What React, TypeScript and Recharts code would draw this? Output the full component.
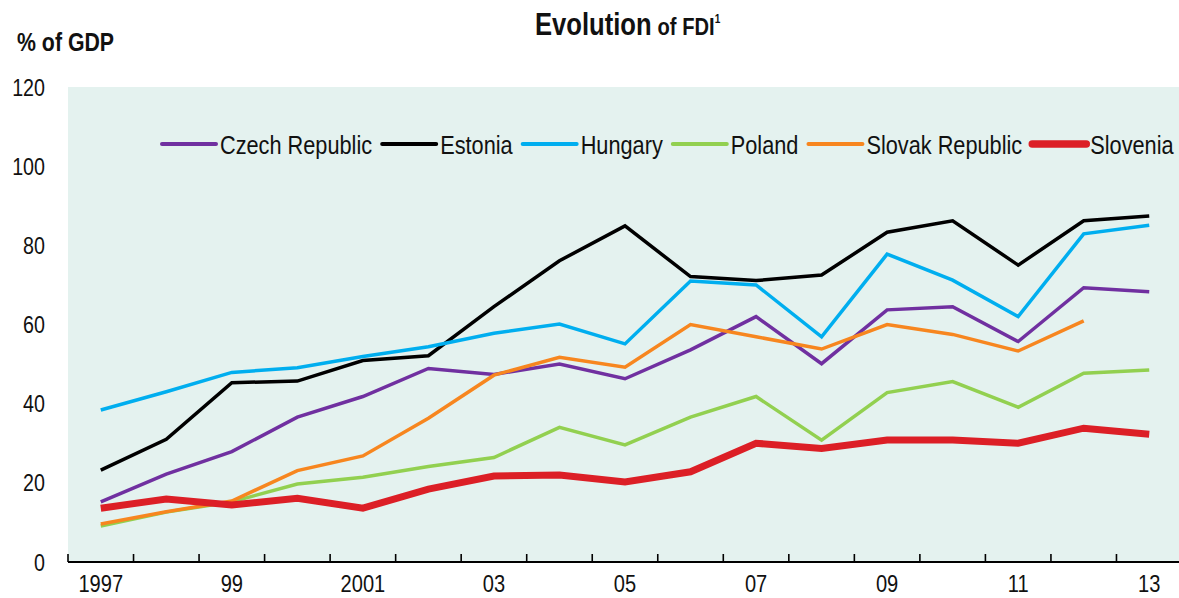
import React from 'react';
import { LineChart, Line, XAxis, YAxis, CartesianGrid, Legend } from 'recharts';

const years = ['1997','1998','1999','2000','2001','2002','2003','2004','2005','2006','2007','2008','2009','2010','2011','2012','2013'];
const tickLabels = ['1997','','99','','2001','','03','','05','','07','','09','','11','','13'];
const yTicks = [0, 20, 40, 60, 80, 100, 120];

const czech = [15.2,22.2,27.9,36.6,41.8,48.9,47.4,50.0,46.3,53.6,62.0,50.1,63.7,64.5,55.7,69.3,68.3];
const estonia = [23.2,31.0,45.3,45.7,50.9,52.1,64.5,76.1,84.9,72.1,71.1,72.5,83.3,86.2,75.0,86.2,87.4];
const hungary = [38.4,43.0,47.9,49.1,51.9,54.4,57.8,60.1,55.1,71.0,70.0,56.9,77.8,71.2,62.0,82.9,85.1];
const poland = [9.1,12.6,15.2,19.7,21.4,24.1,26.4,34.0,29.6,36.6,41.8,30.8,42.8,45.6,39.1,47.7,48.5];
const slovak = [9.6,12.7,15.4,23.1,26.8,36.3,47.2,51.7,49.2,60.0,56.9,53.8,60.0,57.5,53.3,60.9,null];
const slovenia = [13.6,15.9,14.4,16.1,13.6,18.4,21.7,22.0,20.2,22.8,30.0,28.7,30.8,30.8,30.0,33.8,32.3];

const SERIES = [
  { key: 'czech', name: 'Czech Republic', color: '#7030A0', width: 3.5 },
  { key: 'estonia', name: 'Estonia', color: '#000000', width: 3.5 },
  { key: 'hungary', name: 'Hungary', color: '#00AEEF', width: 3.5 },
  { key: 'poland', name: 'Poland', color: '#92D050', width: 3.5 },
  { key: 'slovak', name: 'Slovak Republic', color: '#F7861F', width: 3.5 },
  { key: 'slovenia', name: 'Slovenia', color: '#DC1F26', width: 7 },
];

const data = years.map((y, i) => ({
  year: y,
  czech: czech[i],
  estonia: estonia[i],
  hungary: hungary[i],
  poland: poland[i],
  slovak: slovak[i],
  slovenia: slovenia[i],
}));

const FONT = "'Liberation Sans', Arial, sans-serif";
const SX = 0.82; // horizontal condensing to mimic a narrow face
const W = 1179;
const H = 598;
const Y_AXIS_W = 68;
const MARGIN_RIGHT = -3;
const PLOT_W = W - Y_AXIS_W - MARGIN_RIGHT;
const BAND = PLOT_W / years.length;

let measureCtx: CanvasRenderingContext2D | null = null;
const measure = (txt: string, size: number) => {
  if (!measureCtx) {
    const c = document.createElement('canvas');
    measureCtx = c.getContext('2d');
  }
  if (!measureCtx) return txt.length * size * 0.5;
  measureCtx.font = `${size}px 'Liberation Sans', Arial, sans-serif`;
  return measureCtx.measureText(txt).width;
};

const XTick = (props: any) => {
  const { x, y, index } = props;
  const half = BAND / 2;
  const label = tickLabels[index];
  return (
    <g>
      <line x1={x - half} x2={x - half} y1={y} y2={y - 8} stroke="#000" strokeWidth={1.6} />
      {index === years.length - 1 && (
        <line x1={x + half} x2={x + half} y1={y} y2={y - 8} stroke="#000" strokeWidth={1.6} />
      )}
      {label && (
        <text transform={`translate(${x},${y + 30}) scale(${SX},1)`} textAnchor="middle" fontFamily={FONT} fontSize={24.5} fill="#111">
          {label}
        </text>
      )}
    </g>
  );
};

const YTick = (props: any) => {
  const { x, y, payload } = props;
  return (
    <text transform={`translate(${x},${y + 8.5}) scale(${SX},1)`} textAnchor="end" fontFamily={FONT} fontSize={24} fill="#111">
      {payload.value}
    </text>
  );
};

const LEG_FS = 26.5;
const renderLegend = (props: any) => {
  const { payload } = props;
  let cx = 2;
  const items = (payload || []).map((p: any, i: number) => {
    const s = SERIES.find((q) => q.name === p.value);
    const tw = measure(String(p.value), LEG_FS) * SX;
    const x0 = cx;
    cx += 54 + 4 + tw + 10;
    return (
      <g key={i}>
        <line x1={x0} x2={x0 + 54} y1={20} y2={20} stroke={p.color} strokeWidth={s ? s.width + 0.5 : 4} strokeLinecap="round" />
        <text transform={`translate(${x0 + 58},${29.5}) scale(${SX},1)`} fontFamily={FONT} fontSize={LEG_FS} fill="#111">
          {p.value}
        </text>
      </g>
    );
  });
  return (
    <svg width={1030} height={40} style={{ display: 'block' }}>
      {items}
    </svg>
  );
};

export default function App() {
  return (
    <div style={{ position: 'absolute', left: 0, top: 0, width: W, height: H, background: '#fff', overflow: 'hidden' }}>
      <LineChart width={W} height={H} data={data} margin={{ top: 87, right: MARGIN_RIGHT, bottom: 0, left: 0 }}>
        <CartesianGrid fill="#E4F2EF" horizontal={false} vertical={false} stroke="none" />
        <XAxis
          dataKey="year"
          interval={0}
          height={36}
          padding={{ left: BAND / 2, right: BAND / 2 }}
          axisLine={{ stroke: '#000', strokeWidth: 2 }}
          tickLine={false}
          tickSize={0}
          tickMargin={0}
          tick={<XTick />}
        />
        <YAxis
          domain={[0, 120]}
          ticks={yTicks}
          width={Y_AXIS_W}
          axisLine={false}
          tickLine={false}
          tickSize={0}
          tickMargin={23}
          tick={<YTick />}
        />
        <Legend
          layout="horizontal"
          verticalAlign="middle"
          align="center"
          content={renderLegend}
          wrapperStyle={{ top: 124, left: 160, width: 'auto' }}
        />
        {SERIES.map((s) => (
          <Line
            key={s.key}
            dataKey={s.key}
            name={s.name}
            stroke={s.color}
            strokeWidth={s.width}
            dot={false}
            activeDot={false}
            isAnimationActive={false}
            connectNulls={false}
            strokeLinejoin="miter"
          />
        ))}
      </LineChart>
      <svg width={W} height={70} style={{ position: 'absolute', left: 0, top: 0, pointerEvents: 'none' }}>
        <text transform={`translate(17,51) scale(${SX},1)`} fontFamily={FONT} fontWeight="bold" fontSize={26} fill="#111">% of GDP</text>
        <text transform="translate(535,35) scale(0.84,1)" fontFamily={FONT} fontWeight="bold" fill="#111">
          <tspan fontSize={30.5}>Evolution</tspan>
          <tspan fontSize={24} dx={7}>of FDI</tspan>
          <tspan fontSize={12} dy={-12}>1</tspan>
        </text>
      </svg>
    </div>
  );
}
